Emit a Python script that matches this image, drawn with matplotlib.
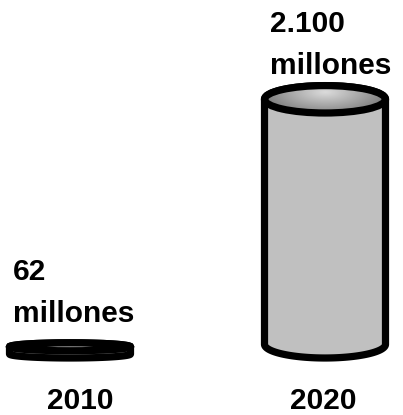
import numpy as np
import matplotlib
matplotlib.use("Agg")
import matplotlib.pyplot as plt
from matplotlib.patches import Polygon, Ellipse

# data
years = ["2010", "2020"]
values = [62, 2100]
value_labels = ["62", "2.100"]
unit_label = "millones"

# layout (pixel-like coords, y grows downward)
centers = [70, 325]
rx = 60.5
base_y = 358          # lowest point of the bottom rim
max_body = 245        # body height of the largest cylinder
edge_lw = 5.2
body_color = "#c0c0c0"

plt.rcParams["font.family"] = ["Liberation Sans", "DejaVu Sans"]

fig = plt.figure(figsize=(4.03, 4.15), dpi=100)
ax = fig.add_axes([0, 0, 1, 1])
ax.set_xlim(0, 403)
ax.set_ylim(415, 0)
ax.axis("off")


def draw_cylinder(cx, value):
    body_h = value / max(values) * max_body
    ry = min(13.7, 0.55 * body_h)
    yb = base_y - ry
    yt = yb - body_h

    t = np.linspace(0, np.pi, 80)
    bottom_arc = np.column_stack([cx - rx * np.cos(t), yb + ry * np.sin(t)])
    top_arc = np.column_stack([cx + rx * np.cos(t), yt - ry * np.sin(t)])
    pts = np.vstack([[cx - rx, yt], bottom_arc, [cx + rx, yt], top_arc])
    body = Polygon(pts, closed=True, facecolor=body_color, edgecolor="black",
                   lw=edge_lw, joinstyle="round", zorder=2)
    ax.add_patch(body)

    # top ellipse with a soft radial shading
    gx = np.linspace(cx - rx, cx + rx, 200)
    gy = np.linspace(yt - ry, yt + ry, 60)
    X, Y = np.meshgrid(gx, gy)
    d = np.sqrt(((X - cx) / rx) ** 2 + ((Y - (yt + ry * 0.5)) / (ry * 1.6)) ** 2)
    shade = np.clip(0.86 - 0.35 * d, 0.5, 0.88)
    top = Ellipse((cx, yt), 2 * rx, 2 * ry, facecolor="none", edgecolor="black",
                  lw=edge_lw, zorder=4)
    im = ax.imshow(shade, cmap="gray", vmin=0, vmax=1, origin="lower",
                   extent=(cx - rx, cx + rx, yt + ry, yt - ry),
                   interpolation="bilinear", zorder=3, aspect="auto")
    clip = Ellipse((cx, yt), 2 * rx, 2 * ry, transform=ax.transData)
    im.set_clip_path(clip)
    ax.add_patch(top)


for cx, v in zip(centers, values):
    draw_cylinder(cx, v)

ax.set_xlim(0, 403)
ax.set_ylim(415, 0)

txt = dict(fontsize=21.5, fontweight="bold", color="black", va="baseline")

# value labels
ax.text(13, 280, value_labels[0], ha="left", **txt)
ax.text(13, 322, unit_label, ha="left", **txt)
ax.text(270, 32, value_labels[1], ha="left", **txt)
ax.text(270, 74, unit_label, ha="left", **txt)

# year labels
ax.text(80, 409, years[0], ha="center", **txt)
ax.text(323, 409, years[1], ha="center", **txt)

fig.savefig("out.png", dpi=100)
